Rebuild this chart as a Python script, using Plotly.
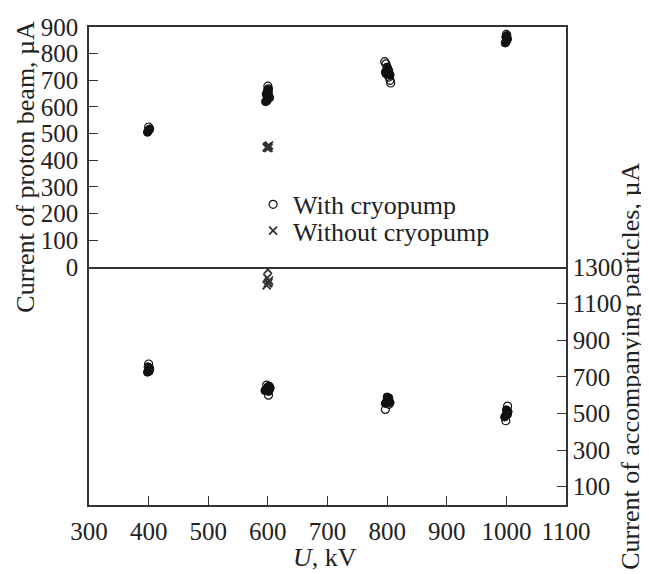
import plotly.graph_objects as go

# ---- Data ----
# Proton beam current (left axis, µA) with cryopump
beam_with_U = [398, 400, 402, 399, 401,
               596, 598, 600, 602, 597, 601, 599, 600, 603, 598,
               797, 799, 801, 803, 798, 800, 802, 805,
               998, 1000, 1002, 999, 1001, 1000]
beam_with_I = [505, 512, 518, 508, 515,
               620, 625, 630, 640, 648, 655, 660, 665, 635, 622,
               730, 740, 745, 735, 725, 750, 738, 720,
               840, 848, 855, 862, 868, 845]
beam_with_open_U = [400, 600, 601, 796, 798, 803, 806, 805, 1000]
beam_with_open_I = [525, 678, 668, 770, 762, 712, 690, 700, 872]

# Proton beam current without cryopump
beam_without_U = [598, 600, 602, 599, 601]
beam_without_I = [448, 452, 455, 450, 446]

# Accompanying particles current (right axis, µA) with cryopump
acc_with_U = [398, 400, 402, 399, 401,
              595, 598, 600, 602, 604, 597, 601, 603,
              797, 799, 801, 803, 805, 800,
              997, 999, 1001, 1003, 1000, 1002]
acc_with_I = [725, 735, 745, 755, 730,
              625, 635, 645, 650, 640, 630, 620, 632,
              555, 565, 575, 585, 560, 590,
              480, 490, 500, 510, 520, 495]
acc_with_open_U = [400, 601, 598, 797, 803, 999, 1002]
acc_with_open_I = [770, 600, 655, 522, 550, 460, 540]

# Accompanying particles current without cryopump
acc_without_U = [598, 600, 602, 599, 601, 600]
acc_without_I = [1200, 1210, 1225, 1240, 1215, 1285]

x_ticks = [300, 400, 500, 600, 700, 800, 900, 1000, 1100]
left_ticks = [0, 100, 200, 300, 400, 500, 600, 700, 800, 900]
right_ticks = [100, 300, 500, 700, 900, 1100, 1300]

FONT = "Liberation Serif, Times New Roman, serif"
INK = "#222222"
LINE = "#333333"

fig = go.Figure()

filled = dict(symbol="circle", size=8, color="#111111", line=dict(color="#111111", width=1))
opened = dict(symbol="circle-open", size=8, color="#111111", line=dict(width=1.2))
cross = dict(symbol="x-thin", size=8, color="#333333", line=dict(color="#333333", width=1.8))

# top panel (xaxis2 / yaxis)
fig.add_trace(go.Scatter(x=beam_with_U, y=beam_with_I, mode="markers", marker=filled,
                         xaxis="x2", yaxis="y", showlegend=False))
fig.add_trace(go.Scatter(x=beam_with_open_U, y=beam_with_open_I, mode="markers", marker=opened,
                         xaxis="x2", yaxis="y", name="With cryopump", legend="legend"))
fig.add_trace(go.Scatter(x=beam_without_U, y=beam_without_I, mode="markers", marker=cross,
                         xaxis="x2", yaxis="y", name="Without cryopump", legend="legend2"))
# bottom panel (xaxis / yaxis2)
fig.add_trace(go.Scatter(x=acc_with_U, y=acc_with_I, mode="markers", marker=filled,
                         xaxis="x", yaxis="y2", showlegend=False))
fig.add_trace(go.Scatter(x=acc_with_open_U, y=acc_with_open_I, mode="markers", marker=opened,
                         xaxis="x", yaxis="y2", showlegend=False))
fig.add_trace(go.Scatter(x=acc_without_U, y=acc_without_I, mode="markers", marker=cross,
                         xaxis="x", yaxis="y2", showlegend=False))

tickfont = dict(family=FONT, size=25, color=INK)
mid = 0.498
legend_font = dict(family=FONT, size=26, color=INK)

fig.update_layout(
    width=649, height=574,
    margin=dict(l=81, r=91, t=19, b=77, autoexpand=False),
    paper_bgcolor="white", plot_bgcolor="white",
    font=dict(family=FONT, color=INK),
    xaxis=dict(domain=[0, 1], anchor="y2", range=[300, 1100], tickvals=x_ticks,
               ticks="inside", ticklen=9, tickwidth=1.2, tickcolor=LINE,
               showline=True, linecolor=LINE, linewidth=1.5, mirror=False,
               showgrid=False, zeroline=False, tickfont=tickfont, ticklabelstandoff=3,
               automargin=False),
    xaxis2=dict(domain=[0, 1], anchor="y", matches="x", range=[300, 1100],
                showticklabels=False, ticks="",
                showline=True, linecolor=LINE, linewidth=1.5, mirror=True,
                showgrid=False, zeroline=False, automargin=False),
    yaxis=dict(domain=[mid, 1], anchor="x2", range=[0, 900], tickvals=left_ticks,
               ticks="inside", ticklen=9, tickwidth=1.2, tickcolor=LINE,
               showline=True, linecolor=LINE, linewidth=1.5, mirror=True,
               showgrid=False, zeroline=False, tickfont=tickfont, ticklabelstandoff=4,
               automargin=False),
    yaxis2=dict(domain=[0, mid], anchor="x", side="right", range=[0, 1300], tickvals=right_ticks,
                ticks="inside", ticklen=9, tickwidth=1.2, tickcolor=LINE,
                showline=True, linecolor=LINE, linewidth=1.5, mirror=True,
                showgrid=False, zeroline=False, tickfont=tickfont, ticklabelstandoff=0,
                automargin=False),
    legend=dict(x=0.344, y=0.678, xanchor="left", yanchor="top", font=legend_font,
                bgcolor="rgba(0,0,0,0)", itemwidth=30),
    legend2=dict(x=0.344, y=0.623, xanchor="left", yanchor="top", font=legend_font,
                 bgcolor="rgba(0,0,0,0)", itemwidth=30),
    annotations=[
        dict(text="Current of proton beam, µA", xref="paper", yref="paper",
             x=-0.135, y=0.707, xanchor="center", yanchor="middle",
             textangle=-90, showarrow=False,
             font=dict(family=FONT, size=26, color=INK)),
        dict(text="Current of accompanying particles, µA", xref="paper", yref="paper",
             x=1.136, y=0.291, xanchor="center", yanchor="middle",
             textangle=-90, showarrow=False,
             font=dict(family=FONT, size=26, color=INK)),
        dict(text="<i>U</i>, kV", xref="paper", yref="paper",
             x=0.495, y=-0.11, xanchor="center", yanchor="middle", showarrow=False,
             font=dict(family=FONT, size=26, color=INK)),
    ],
)

fig.write_html("out.html")
